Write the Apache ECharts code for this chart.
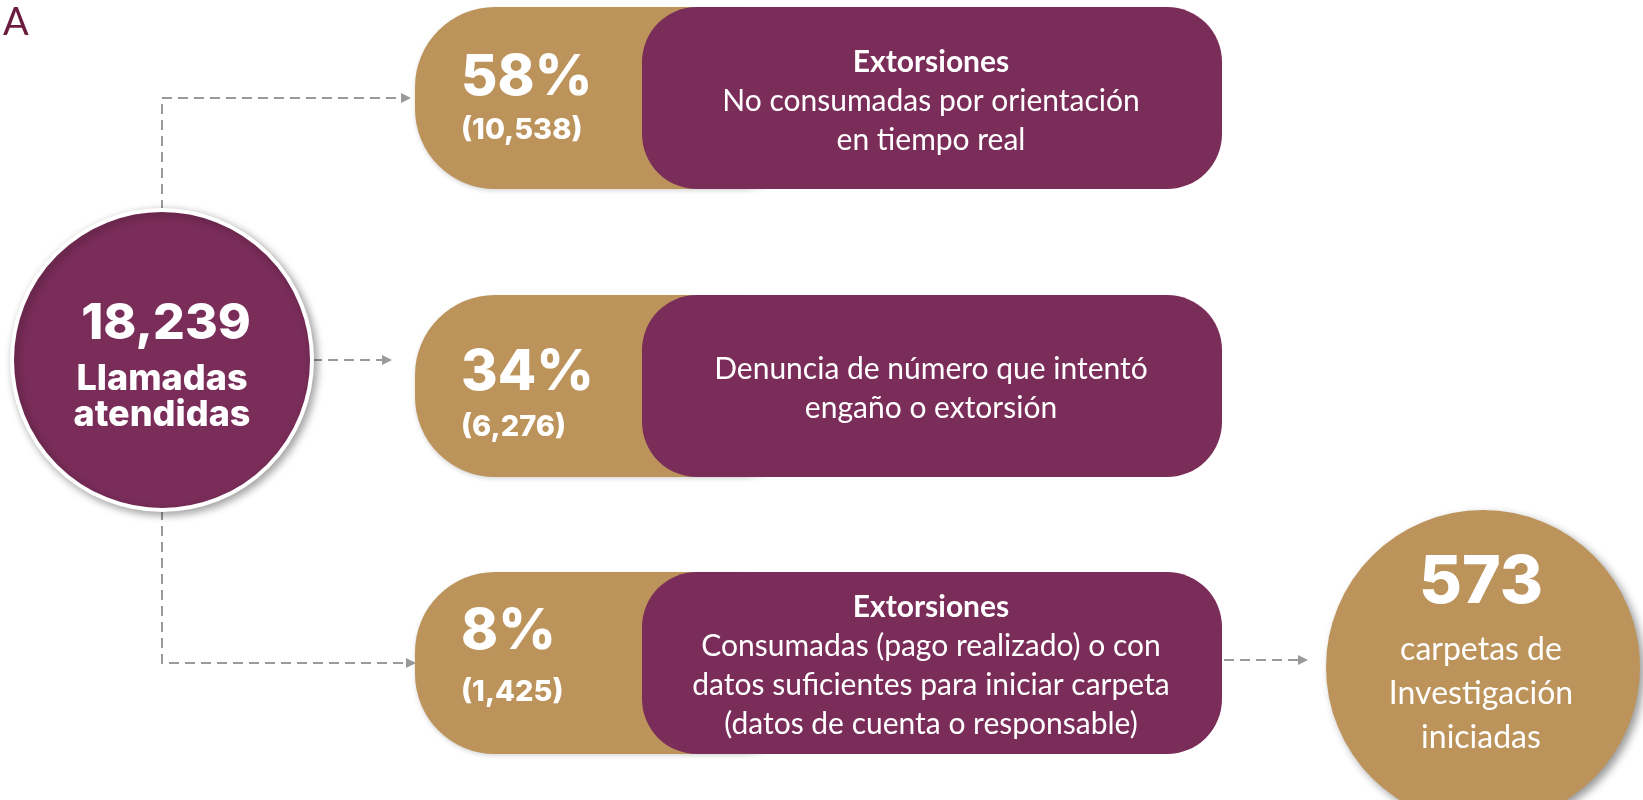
<!DOCTYPE html>
<html>
<head>
<meta charset="utf-8">
<script src="https://cdn.jsdelivr.net/npm/echarts@6/dist/echarts.min.js"></script>
<style>
  html, body { margin: 0; padding: 0; background: #fff; }
  #main { width: 1643px; height: 800px; }
</style>
</head>
<body>
<div id="main"></div>
<script>
// data
var panelTag = 'A';
var totalCalls = 18239;
var totalLabel = ['Llamadas', 'atendidas'];
var shares = [58, 34, 8];
var counts = [10538, 6276, 1425];
var titles = ['Extorsiones', '', 'Extorsiones'];
var descriptions = [
    ['No consumadas por orientación', 'en tiempo real'],
    ['Denuncia de número que intentó', 'engaño o extorsión'],
    ['Consumadas (pago realizado) o con', 'datos suficientes para iniciar carpeta', '(datos de cuenta o responsable)']
];
var carpetas = 573;
var carpetasLabel = ['carpetas de', 'Investigación', 'iniciadas'];

// style
var color = {
    gold: '#bc945b',
    maroon: '#7b2d5a',
    dash: '#9a9a9a',
    tag: '#6b1c3e'
};
var numFont = '"Inter", "DejaVu Sans", sans-serif';
var txtFont = 'Lato, "Open Sans", sans-serif';

// layout
var pos = {
    hubX: 162, hubY: 360, hubR: 150,
    rowCy: [98, 386, 663],
    rowH: 182,
    pctDy: [-20, -13, -31],
    cntDy: [32, 41, 29],
    goldX: 415, goldW: 405,
    boxX: 642, boxW: 580,
    endX: 1483, endY: 667, endR: 157
};

var fmt = function (v) {
    return v.toLocaleString('en-US');
};

var text = function (str, x, y, font, fill, align) {
    return {
        type: 'text',
        z: 20,
        style: {
            text: str,
            x: x,
            y: y,
            font: font,
            fill: fill || '#fff',
            align: align || 'center',
            verticalAlign: 'middle'
        }
    };
};

var dashed = function (points) {
    return {
        type: 'polyline',
        z: 2,
        shape: { points: points },
        style: { stroke: color.dash, lineWidth: 2, lineDash: [10, 6], fill: 'none' }
    };
};

var arrowHead = function (x, y) {
    return {
        type: 'polygon',
        z: 2,
        shape: { points: [[x, y], [x - 10, y - 5], [x - 10, y + 5]] },
        style: { fill: color.dash }
    };
};

function buildElements() {
    var elements = [];

    elements.push(text(panelTag, 3, 23, '400 38px ' + txtFont, color.tag, 'left'));

    // connectors
    var arrowEnds = [411, 392, 416];
    elements.push(dashed([[pos.hubX, pos.hubY - pos.hubR], [pos.hubX, pos.rowCy[0]], [arrowEnds[0] - 8, pos.rowCy[0]]]));
    elements.push(arrowHead(arrowEnds[0], pos.rowCy[0]));
    elements.push(dashed([[pos.hubX + pos.hubR, pos.hubY], [arrowEnds[1] - 8, pos.hubY]]));
    elements.push(arrowHead(arrowEnds[1], pos.hubY));
    elements.push(dashed([[pos.hubX, pos.hubY + pos.hubR], [pos.hubX, pos.rowCy[2]], [arrowEnds[2] - 8, pos.rowCy[2]]]));
    elements.push(arrowHead(arrowEnds[2], pos.rowCy[2]));
    elements.push(dashed([[pos.boxX + pos.boxW + 2, pos.rowCy[2] - 3], [1300, pos.rowCy[2] - 3]]));
    elements.push(arrowHead(1308, pos.rowCy[2] - 3));

    // hub circle
    elements.push({
        type: 'circle',
        z: 5,
        shape: { cx: pos.hubX, cy: pos.hubY, r: pos.hubR },
        style: {
            fill: color.maroon, stroke: '#fff', lineWidth: 4,
            shadowBlur: 8, shadowColor: 'rgba(0,0,0,0.35)', shadowOffsetX: 3, shadowOffsetY: 3
        }
    });
    elements.push(text(fmt(totalCalls), pos.hubX + 4, pos.hubY - 36, '800 50px ' + numFont));
    elements.push(text(totalLabel[0], pos.hubX, pos.hubY + 19, '800 36px ' + numFont));
    elements.push(text(totalLabel[1], pos.hubX, pos.hubY + 55, '800 36px ' + numFont));

    // rows
    for (var i = 0; i < shares.length; i++) {
        var cy = pos.rowCy[i];
        var rowTop = cy - pos.rowH / 2;
        elements.push({
            type: 'rect',
            z: 5,
            shape: { x: pos.goldX, y: rowTop, width: pos.goldW, height: pos.rowH, r: 80 },
            style: { fill: color.gold, shadowBlur: 4, shadowColor: 'rgba(0,0,0,0.15)', shadowOffsetY: 2 }
        });
        elements.push({
            type: 'rect',
            z: 6,
            shape: { x: pos.boxX, y: rowTop, width: pos.boxW, height: pos.rowH, r: 55 },
            style: { fill: color.maroon }
        });
        elements.push(text(shares[i] + '%', 461, cy + pos.pctDy[i], '800 56px ' + numFont, '#fff', 'left'));
        elements.push(text('(' + fmt(counts[i]) + ')', 461, cy + pos.cntDy[i], '800 29px ' + numFont, '#fff', 'left'));

        var lines = [];
        if (titles[i]) lines.push({ s: titles[i], w: 700 });
        for (var j = 0; j < descriptions[i].length; j++) lines.push({ s: descriptions[i][j], w: 400 });
        var lh = 39;
        var startY = cy + 3 - (lines.length - 1) * lh / 2;
        for (var k = 0; k < lines.length; k++) {
            elements.push(text(lines[k].s, pos.boxX + pos.boxW / 2 - 1, startY + k * lh,
                lines[k].w + ' 30px ' + txtFont));
        }
    }

    // result circle
    elements.push({
        type: 'circle',
        z: 5,
        shape: { cx: pos.endX, cy: pos.endY, r: pos.endR },
        style: {
            fill: color.gold,
            shadowBlur: 8, shadowColor: 'rgba(0,0,0,0.4)', shadowOffsetX: 4, shadowOffsetY: 4
        }
    });
    elements.push(text(String(carpetas), pos.endX - 2, 583, '800 66px ' + numFont));
    for (var m = 0; m < carpetasLabel.length; m++) {
        elements.push(text(carpetasLabel[m], pos.endX - 2, 650 + m * 44, '400 32px ' + txtFont));
    }
    return elements;
}

var myChart = echarts.init(document.getElementById('main'));
myChart.setOption({
    backgroundColor: '#fff',
    animation: false,
    graphic: { elements: buildElements() }
});
</script>
</body>
</html>
